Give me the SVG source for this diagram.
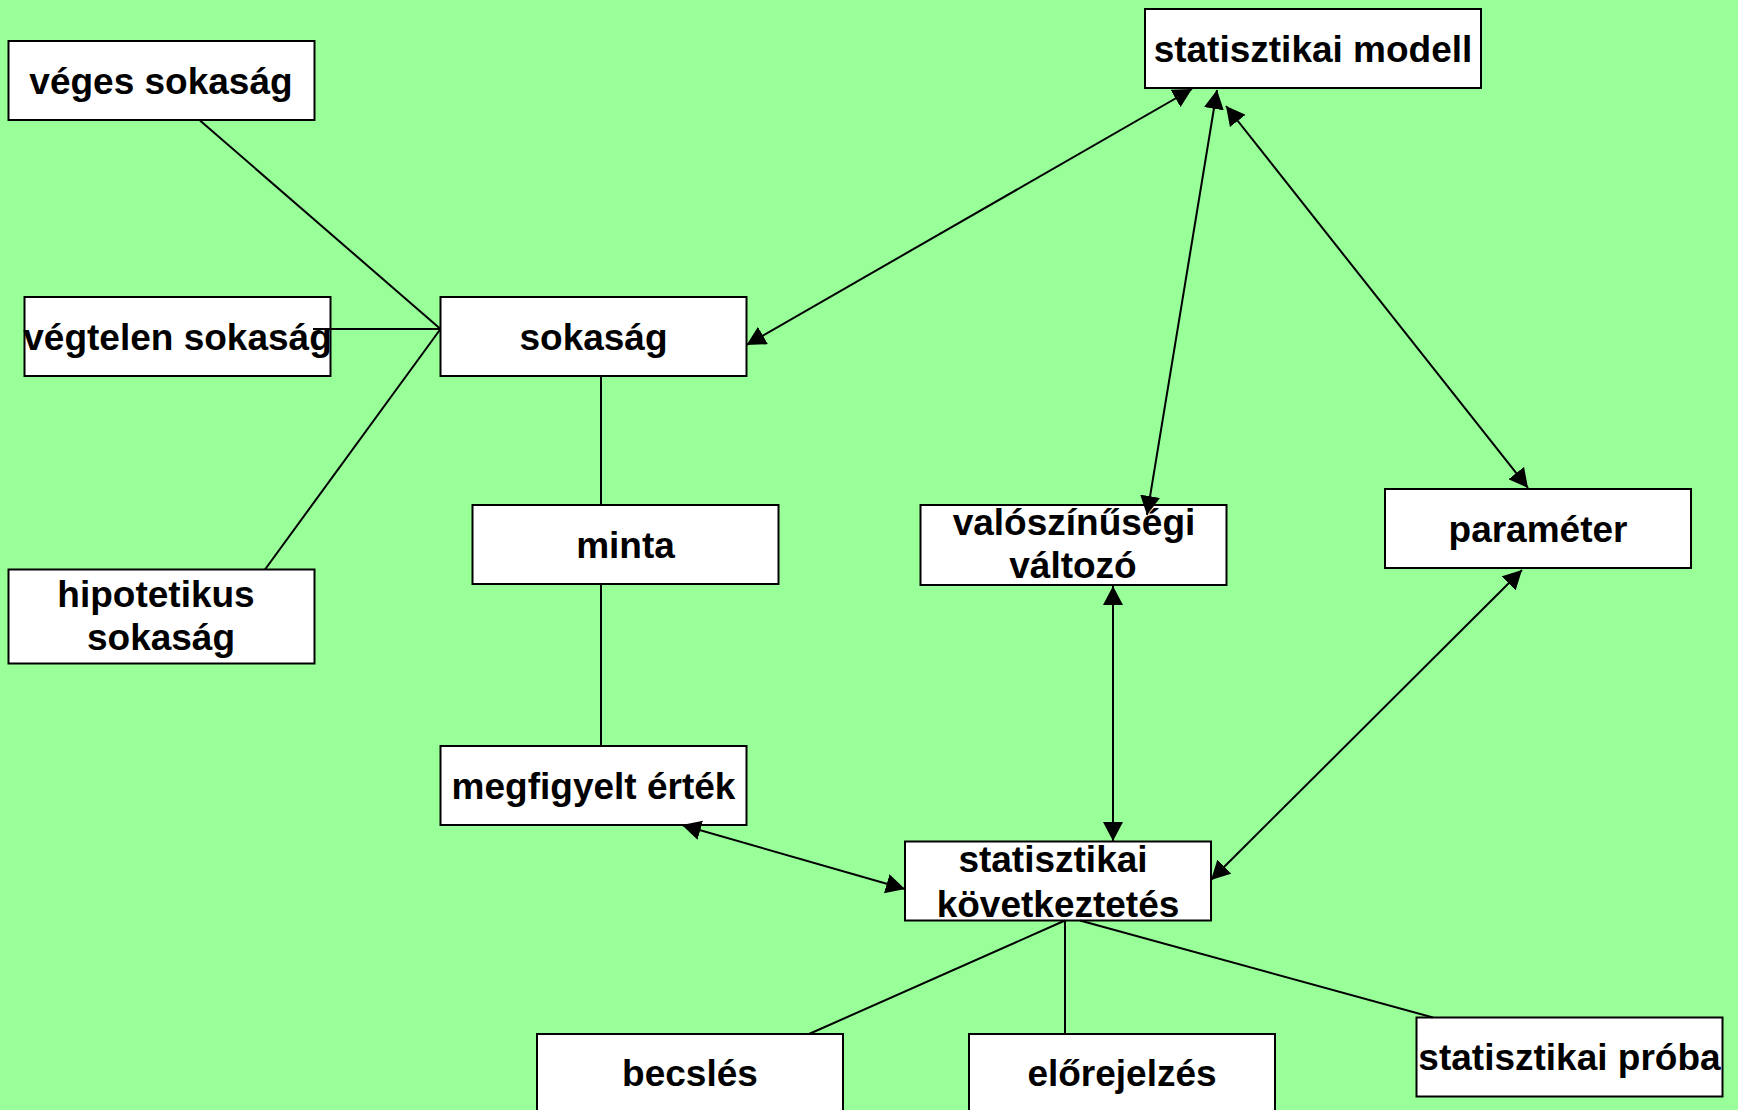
<svg xmlns="http://www.w3.org/2000/svg" width="1738" height="1110" viewBox="0 0 1738 1110">
<style>
.box{fill:#ffffff;stroke:#000000;stroke-width:2}
.t{font-family:"Liberation Sans",Arial,sans-serif;font-weight:bold;font-size:37px;fill:#000000;text-anchor:middle}
.c{stroke:#000000;stroke-width:2;fill:none}
.a{marker-start:url(#ah);marker-end:url(#ah)}
</style>
<defs>
<marker id="ah" viewBox="0 0 19 20" refX="19" refY="10" markerWidth="19" markerHeight="20" markerUnits="userSpaceOnUse" orient="auto-start-reverse">
<path d="M0,0 L19,10 L0,20 z" fill="#000000"/>
</marker>
</defs>
<rect x="0" y="0" width="1738" height="1110" fill="#99ff99"/>
<g id="veges"><rect class="box" x="8.5" y="41" width="306" height="79"/><text class="t" x="161" y="94">véges sokaság</text></g>
<g id="vegtelen"><rect class="box" x="24.5" y="297" width="306" height="79"/><text class="t" x="177.5" y="350">végtelen sokaság</text></g>
<g id="hipotetikus"><rect class="box" x="8.5" y="569.5" width="306" height="94"/><text class="t" x="156" y="607">hipotetikus</text><text class="t" x="161" y="650">sokaság</text></g>
<g id="sokasag"><rect class="box" x="440.5" y="297" width="306" height="79"/><text class="t" x="593.5" y="350">sokaság</text></g>
<g id="minta"><rect class="box" x="472.5" y="505" width="306" height="79"/><text class="t" x="625.5" y="558">minta</text></g>
<g id="megfigyelt"><rect class="box" x="440.5" y="746" width="306" height="79"/><text class="t" x="593.5" y="799">megfigyelt érték</text></g>
<g id="modell"><rect class="box" x="1145" y="9" width="336" height="79"/><text class="t" x="1313" y="62">statisztikai modell</text></g>
<g id="valoszinusegi"><rect class="box" x="920.5" y="505" width="306" height="80"/><text class="t" x="1074" y="535">valószínűségi</text><text class="t" x="1073" y="578">változó</text></g>
<g id="parameter"><rect class="box" x="1385" y="489" width="306" height="79"/><text class="t" x="1538" y="542">paraméter</text></g>
<g id="kovetkeztetes"><rect class="box" x="905" y="841.5" width="306" height="79"/><text class="t" x="1053" y="872">statisztikai</text><text class="t" x="1058" y="917">következtetés</text></g>
<g id="becsles"><rect class="box" x="537" y="1034" width="306" height="79"/><text class="t" x="690" y="1086">becslés</text></g>
<g id="elorejelzes"><rect class="box" x="969" y="1034" width="306" height="79"/><text class="t" x="1122" y="1086">előrejelzés</text></g>
<g id="proba"><rect class="box" x="1416.5" y="1017.5" width="306" height="79"/><text class="t" x="1569.5" y="1070">statisztikai próba</text></g>
<g id="connectors">
<line class="c" x1="200" y1="120.5" x2="440.5" y2="329"/>
<line class="c" x1="313" y1="329" x2="440.5" y2="329"/>
<line class="c" x1="265" y1="569.5" x2="440.5" y2="329"/>
<line class="c" x1="601" y1="376" x2="601" y2="505"/>
<line class="c" x1="601" y1="584" x2="601" y2="746"/>
<line class="c a" x1="746.5" y1="345" x2="1192" y2="89"/>
<line class="c a" x1="1217" y1="90" x2="1147" y2="515"/>
<line class="c a" x1="1226" y1="106" x2="1528" y2="488"/>
<line class="c a" x1="1113" y1="586" x2="1113" y2="841"/>
<line class="c a" x1="1522" y1="570" x2="1211" y2="880"/>
<line class="c a" x1="682" y1="825" x2="905" y2="889"/>
<line class="c" x1="1065" y1="920.5" x2="809" y2="1034"/>
<line class="c" x1="1065" y1="920.5" x2="1065" y2="1034"/>
<line class="c" x1="1080" y1="920.5" x2="1433" y2="1017.5"/>
</g>
</svg>
